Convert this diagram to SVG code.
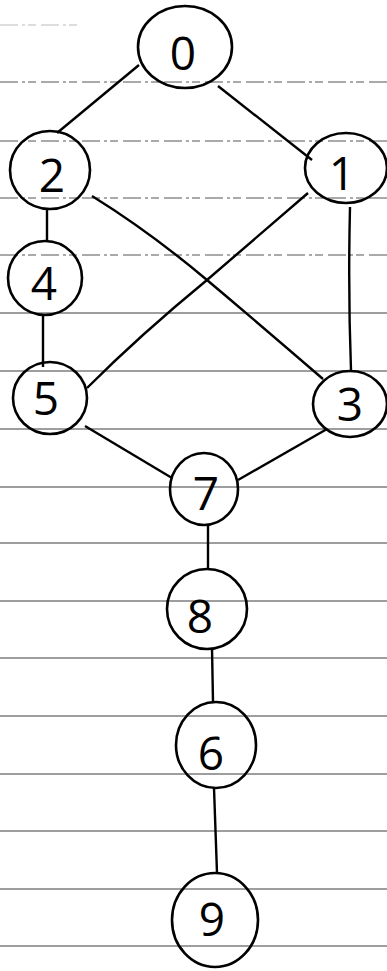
<svg xmlns="http://www.w3.org/2000/svg" width="387" height="971" viewBox="0 0 387 971">
<style>
.rule{stroke:#3c3c3c;stroke-width:1;fill:none}
.faint{stroke-dasharray:18 4 3 3 8 5;stroke:#555}
.node{fill:none;stroke:#000;stroke-width:2.6}
.edge{fill:none;stroke:#000;stroke-width:2.4}
.lbl{font-family:"Open Sans","Liberation Sans",sans-serif;font-weight:400;font-size:46px;text-anchor:middle;fill:#000}
</style>
<rect width="387" height="971" fill="#fff"/>
<g id="paper">
<line class="rule faint" x1="0" y1="25" x2="80" y2="25" stroke-opacity="0.4"/>
<line class="rule faint" x1="0" y1="82" x2="387" y2="82"/>
<line class="rule faint" x1="0" y1="141" x2="387" y2="141"/>
<line class="rule faint" x1="0" y1="198" x2="387" y2="198"/>
<line class="rule faint" x1="0" y1="255" x2="387" y2="255"/>
<line class="rule" x1="0" y1="313" x2="387" y2="313"/>
<line class="rule" x1="0" y1="371" x2="387" y2="371"/>
<line class="rule" x1="0" y1="429" x2="387" y2="429"/>
<line class="rule" x1="0" y1="487" x2="387" y2="487"/>
<line class="rule" x1="0" y1="543" x2="387" y2="543"/>
<line class="rule" x1="0" y1="601" x2="387" y2="601"/>
<line class="rule" x1="0" y1="658" x2="387" y2="658"/>
<line class="rule" x1="0" y1="716" x2="387" y2="716"/>
<line class="rule" x1="0" y1="774" x2="387" y2="774"/>
<line class="rule" x1="0" y1="831" x2="387" y2="831"/>
<line class="rule" x1="0" y1="889" x2="387" y2="889"/>
<line class="rule" x1="0" y1="946" x2="387" y2="946"/>
</g>
<g id="edges">
<line class="edge" x1="139" y1="65" x2="57" y2="133"/>
<line class="edge" x1="218" y1="86" x2="312" y2="160"/>
<line class="edge" x1="47" y1="210" x2="47" y2="242"/>
<path class="edge" d="M92,196 Q150,232 207,280 T323,379"/>
<path class="edge" d="M308,193 L207,280 Q140,335 87,388"/>
<path class="edge" d="M350,207 Q348,290 351,370"/>
<line class="edge" x1="43" y1="315" x2="43" y2="367"/>
<line class="edge" x1="85" y1="426" x2="172" y2="478"/>
<line class="edge" x1="327" y1="429" x2="238" y2="480"/>
<line class="edge" x1="208" y1="525" x2="208" y2="570"/>
<line class="edge" x1="212" y1="648" x2="213" y2="702"/>
<line class="edge" x1="214" y1="788" x2="217" y2="873"/>
</g>
<g id="n0"><ellipse class="node" cx="185" cy="47" rx="47" ry="41"/><text class="lbl" x="183" y="70">0</text></g>
<g id="n2"><ellipse class="node" cx="50" cy="170" rx="40" ry="39"/><text class="lbl" x="52" y="192">2</text></g>
<g id="n1"><ellipse class="node" cx="346" cy="168" rx="41" ry="35"/><text class="lbl" x="342" y="190">1</text></g>
<g id="n4"><ellipse class="node" cx="45" cy="278" rx="37" ry="37"/><text class="lbl" x="44" y="300">4</text></g>
<g id="n5"><ellipse class="node" cx="50" cy="398" rx="37" ry="36"/><text class="lbl" x="46" y="415">5</text></g>
<g id="n3"><ellipse class="node" cx="350" cy="404" rx="37" ry="33"/><text class="lbl" x="350" y="421">3</text></g>
<g id="n7"><ellipse class="node" cx="204" cy="489" rx="34" ry="36"/><text class="lbl" x="206" y="510">7</text></g>
<g id="n8"><ellipse class="node" cx="207" cy="609" rx="40" ry="40"/><text class="lbl" x="200" y="633">8</text></g>
<g id="n6"><ellipse class="node" cx="216" cy="745" rx="40" ry="43"/><text class="lbl" x="211" y="770">6</text></g>
<g id="n9"><ellipse class="node" cx="215" cy="920" rx="43" ry="47"/><text class="lbl" x="212" y="936">9</text></g>
</svg>
